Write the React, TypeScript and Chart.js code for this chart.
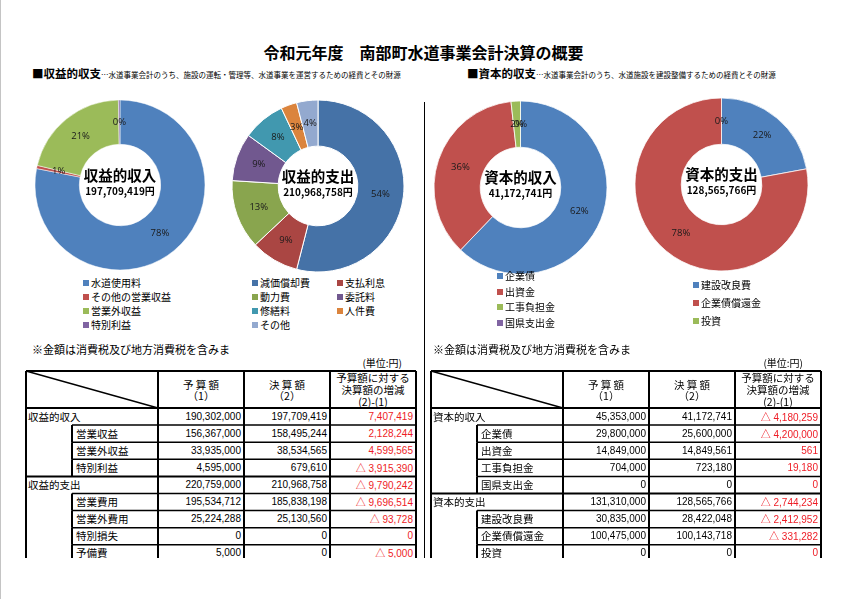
import React, { useEffect, useRef } from "react";
import { Chart, registerables } from "chart.js";
Chart.register(...registerables);

const JP = "'Noto Sans CJK JP', 'Noto Sans', sans-serif";
const NUM = "'Liberation Sans', Arial, sans-serif";

// ---------- data ----------
const pageTitle = "令和元年度　南部町水道事業会計決算の概要";

const incomeLabels = ["水道使用料", "その他の営業収益", "営業外収益", "特別利益"];
const incomeShares = [78.1, 0.6, 21.0, 0.3];
const incomeColors = ["#4F81BD", "#C0504D", "#9BBB59", "#8064A2"];

const expenseLabels = ["減価償却費", "支払利息", "動力費", "委託料", "修繕料", "人件費", "その他"];
const expenseShares = [54, 9, 13, 9, 8, 3, 4];
const expenseColors = ["#4572A7", "#AA4643", "#89A54E", "#71588F", "#4198AF", "#DB843D", "#93A9CF"];

const capIncomeLabels = ["企業債", "出資金", "工事負担金", "国県支出金"];
const capIncomeValues = [25600000, 14849561, 723180, 0];
const capIncomeColors = ["#4F81BD", "#C0504D", "#9BBB59", "#8064A2"];

const capExpenseLabels = ["建設改良費", "企業債償還金", "投資"];
const capExpenseValues = [28422048, 100143718, 0];
const capExpenseColors = ["#4F81BD", "#C0504D", "#9BBB59"];

const revRowLabels = ["収益的収入", "営業収益", "営業外収益", "特別利益", "収益的支出", "営業費用", "営業外費用", "特別損失", "予備費"];
const revRowGroup = [true, false, false, false, true, false, false, false, false];
const revBudget = [190302000, 156367000, 33935000, 4595000, 220759000, 195534712, 25224288, 0, 5000];
const revActual = [197709419, 158495244, 38534565, 679610, 210968758, 185838198, 25130560, 0, 0];
const revDiff = [7407419, 2128244, 4599565, -3915390, -9790242, -9696514, -93728, 0, -5000];

const capRowLabels = ["資本的収入", "企業債", "出資金", "工事負担金", "国県支出金", "資本的支出", "建設改良費", "企業債償還金", "投資"];
const capRowGroup = [true, false, false, false, false, true, false, false, false];
const capBudget = [45353000, 29800000, 14849000, 704000, 0, 131310000, 30835000, 100475000, 0];
const capActual = [41172741, 25600000, 14849561, 723180, 0, 128565766, 28422048, 100143718, 0];
const capDiff = [-4180259, -4200000, 561, 19180, 0, -2744234, -2412952, -331282, 0];

// ---------- helpers ----------
const fmt = (n: number) => n.toLocaleString("en-US");

function T(props: any) {
  const { x, y, children, size = 10, bold = false, align = "left", color = "#000", family = JP, style = {} } = props;
  const tx = align === "center" ? "-50%" : align === "right" ? "-100%" : "0";
  return (
    <div
      style={{
        position: "absolute",
        left: x,
        top: y,
        transform: `translate(${tx},-50%)`,
        fontSize: size,
        fontWeight: bold ? 700 : 400,
        color,
        fontFamily: family,
        lineHeight: 1,
        whiteSpace: "nowrap",
        ...style,
      }}
    >
      {children}
    </div>
  );
}

function Donut(props: any) {
  const { cx, cy, r, inner, labels, values, colors, title, total, border } = props;
  const ref = useRef<HTMLCanvasElement>(null);
  const size = Math.ceil(2 * r + 6);
  useEffect(() => {
    const plugin = {
      id: "labels" + title,
      afterDatasetsDraw(chart: any) {
        const meta = chart.getDatasetMeta(0);
        const data = chart.data.datasets[0].data as number[];
        const sum = data.reduce((a: number, b: number) => a + b, 0);
        const ctx = chart.ctx;
        ctx.save();
        ctx.font = "9.5px 'Open Sans', 'Noto Sans', sans-serif";
        ctx.fillStyle = "#1a1a1a";
        ctx.textAlign = "center";
        ctx.textBaseline = "middle";
        meta.data.forEach((arc: any, i: number) => {
          const p = arc.getProps(["startAngle", "endAngle", "innerRadius", "outerRadius", "x", "y"], true);
          const mid = (p.startAngle + p.endAngle) / 2;
          const rr = (p.innerRadius + p.outerRadius) / 2;
          ctx.fillText(Math.round((data[i] / sum) * 100) + "%", p.x + Math.cos(mid) * rr, p.y + Math.sin(mid) * rr);
        });
        const a0 = meta.data[0];
        const c = a0.getProps(["x", "y"], true);
        ctx.fillStyle = "#000";
        ctx.font = "bold 14.5px 'Noto Sans CJK JP', sans-serif";
        ctx.fillText(title, c.x, c.y - 10);
        ctx.font = "bold 10px 'Noto Sans CJK JP', sans-serif";
        ctx.fillText(total, c.x, c.y + 6);
        ctx.restore();
      },
    };
    const chart = new Chart(ref.current!, {
      type: "doughnut",
      data: {
        labels,
        datasets: [{ data: values, backgroundColor: colors, borderColor: "#ffffff", borderWidth: border }],
      },
      options: {
        responsive: false,
        animation: false,
        radius: r,
        cutout: inner,
        layout: { padding: 0 },
        plugins: { legend: { display: false }, tooltip: { enabled: false } },
      } as any,
      plugins: [plugin],
    });
    return () => chart.destroy();
  }, []);
  return (
    <canvas
      ref={ref}
      width={size}
      height={size}
      style={{ position: "absolute", left: cx - size / 2, top: cy - size / 2, width: size, height: size }}
    />
  );
}

function Legend(props: any) {
  const { xs, y0, dy, labels, colors } = props;
  const cols = xs.length;
  return (
    <>
      {labels.map((l: string, i: number) => {
        const x = xs[i % cols];
        const y = y0 + Math.floor(i / cols) * dy;
        return (
          <React.Fragment key={l}>
            <div style={{ position: "absolute", left: x, top: y - 3, width: 6, height: 6, background: colors[i] }} />
            <T x={x + 8} y={y} size={10}>{l}</T>
          </React.Fragment>
        );
      })}
    </>
  );
}

function Table(props: any) {
  const { x0, labels, groups, budget, actual, diff } = props;
  const colOff = [0, 46, 132, 218, 304, 390];
  const top = 371;
  const headH = 37;
  const rowH = 17.1;
  const clipBottom = 558;
  const W = 390;
  const fullH = headH + labels.length * rowH;
  const rowTop = (i: number) => headH + i * rowH;
  const lines: number[][] = [];
  lines.push([0, 0, W, 0, 2]);
  lines.push([0, headH, W, headH, 2]);
  lines.push([0, 0, 132, headH, 1.3]);
  [0, 132, 218, 304, 390].forEach((c) => lines.push([c, 0, c, fullH, 2]));
  labels.forEach((_: string, i: number) => {
    const yb = rowTop(i + 1);
    if (i < labels.length - 1) {
      const ng = groups[i + 1];
      lines.push([ng ? 0 : 46, yb, W, yb, ng ? 2 : 1.5]);
    }
    if (!groups[i]) lines.push([46, rowTop(i), 46, rowTop(i + 1), 2]);
  });
  const pad = 2;
  const cellTxt = (n: number, red: boolean) => {
    if (!red) return fmt(n);
    if (n < 0)
      return (
        <>
          <span style={{ fontFamily: JP }}>△</span> {fmt(-n)}
        </>
      );
    return fmt(n);
  };
  return (
    <div
      style={{
        position: "absolute",
        left: x0 - pad,
        top: top - pad,
        width: W + 2 * pad,
        height: clipBottom - top + pad,
        overflow: "hidden",
      }}
    >
      <svg width={W + 2 * pad} height={fullH + 2 * pad} style={{ position: "absolute", left: 0, top: 0 }}>
        {lines.map((l, i) => (
          <line key={i} x1={l[0] + pad} y1={l[1] + pad} x2={l[2] + pad} y2={l[3] + pad} stroke="#000" strokeWidth={l[4]} />
        ))}
      </svg>
      <T x={pad + 175} y={pad + 14} size={10.5} align="center">予 算 額</T>
      <T x={pad + 175} y={pad + 25} size={10.5} align="center">（1）</T>
      <T x={pad + 261} y={pad + 14} size={10.5} align="center">決 算 額</T>
      <T x={pad + 261} y={pad + 25} size={10.5} align="center">（2）</T>
      <T x={pad + 347} y={pad + 7} size={10.5} align="center">予算額に対する</T>
      <T x={pad + 347} y={pad + 19} size={10.5} align="center">決算額の増減</T>
      <T x={pad + 347} y={pad + 31} size={10.5} align="center">(2)-(1)</T>
      {labels.map((l: string, i: number) => {
        const cy = pad + rowTop(i) + rowH / 2;
        return (
          <React.Fragment key={l}>
            <T x={pad + (groups[i] ? 2 : 50)} y={cy} size={10.5}>{l}</T>
            <T x={pad + colOff[3] - 3} y={cy} size={10} align="right" family={NUM}>{fmt(budget[i])}</T>
            <T x={pad + colOff[4] - 3} y={cy} size={10} align="right" family={NUM}>{fmt(actual[i])}</T>
            <T x={pad + colOff[5] - 3} y={cy} size={10} align="right" family={NUM} color="#EE1C25">
              {cellTxt(diff[i], true)}
            </T>
          </React.Fragment>
        );
      })}
    </div>
  );
}

export default function App() {
  return (
    <div
      style={{
        position: "absolute",
        left: 0,
        top: 0,
        width: 850,
        height: 599,
        background: "#fff",
        overflow: "hidden",
        fontFamily: JP,
      }}
    >
      <div style={{ position: "absolute", left: 0, top: 0, width: 1, height: 599, background: "#c4c4c4" }} />
      <div style={{ position: "absolute", left: 423.5, top: 102, width: 1.5, height: 456, background: "#000" }} />

      <T x={423.5} y={52} size={16} bold align="center">{pageTitle}</T>

      <T x={32} y={74} size={11.5} bold>
        ■収益的収支
        <span style={{ fontSize: 7.5, fontWeight: 400 }}>…水道事業会計のうち、施設の運転・管理等、水道事業を運営するための経費とその財源</span>
      </T>
      <T x={467} y={74} size={11.5} bold>
        ■資本的収支
        <span style={{ fontSize: 7.5, fontWeight: 400 }}>…水道事業会計のうち、水道施設を建設整備するための経費とその財源</span>
      </T>

      <Donut cx={120} cy={185} r={85} inner={42} labels={incomeLabels} values={incomeShares} colors={incomeColors}
        title="収益的収入" total="197,709,419円" border={0.5} />
      <Donut cx={318} cy={186} r={86} inner={41} labels={expenseLabels} values={expenseShares} colors={expenseColors}
        title="収益的支出" total="210,968,758円" border={1} />
      <Donut cx={520.5} cy={187.5} r={86.5} inner={41.5} labels={capIncomeLabels} values={capIncomeValues} colors={capIncomeColors}
        title="資本的収入" total="41,172,741円" border={0.75} />
      <Donut cx={721.5} cy={184.5} r={86.5} inner={41.5} labels={capExpenseLabels} values={capExpenseValues} colors={capExpenseColors}
        title="資本的支出" total="128,565,766円" border={0.75} />

      <Legend xs={[83]} y0={283} dy={14} labels={incomeLabels} colors={incomeColors} />
      <Legend xs={[252, 337]} y0={283} dy={14} labels={expenseLabels} colors={expenseColors} />
      <Legend xs={[497]} y0={276} dy={15.6} labels={capIncomeLabels} colors={capIncomeColors} />
      <Legend xs={[693]} y0={285} dy={18} labels={capExpenseLabels} colors={capExpenseColors} />

      <T x={32} y={349} size={11}>※金額は消費税及び地方消費税を含みま</T>
      <T x={433} y={349} size={11}>※金額は消費税及び地方消費税を含みま</T>
      <T x={402} y={363} size={10} align="right">(単位:円)</T>
      <T x={803} y={363} size={10} align="right">(単位:円)</T>

      <Table x0={26} labels={revRowLabels} groups={revRowGroup} budget={revBudget} actual={revActual} diff={revDiff} />
      <Table x0={431} labels={capRowLabels} groups={capRowGroup} budget={capBudget} actual={capActual} diff={capDiff} />
    </div>
  );
}
